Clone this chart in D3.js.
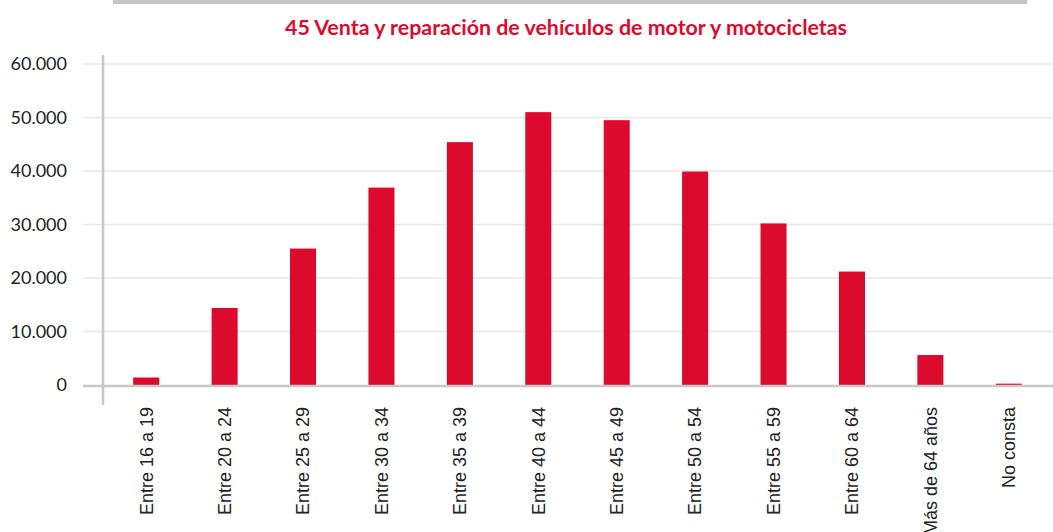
<!DOCTYPE html>
<html>
<head>
<meta charset="utf-8">
<script src="https://cdn.jsdelivr.net/npm/d3@7"></script>
<style>
  body { margin: 0; background: #fff; }
</style>
</head>
<body>
<div id="chart"></div>
<script>
// data
var categories = ["Entre 16 a 19", "Entre 20 a 24", "Entre 25 a 29", "Entre 30 a 34",
  "Entre 35 a 39", "Entre 40 a 44", "Entre 45 a 49", "Entre 50 a 54",
  "Entre 55 a 59", "Entre 60 a 64", "Más de 64 años", "No consta"];
var values = [1400, 14400, 25500, 36900, 45400, 51000, 49500, 39900, 30200, 21200, 5600, 250];
var yTicks = [0, 10000, 20000, 30000, 40000, 50000, 60000];
var title = "45 Venta y reparación de vehículos de motor y motocicletas";

var width = 1053, height = 532;
var red = "#dc0a2c";

var svg = d3.select("#chart")
  .append("svg")
    .attr("width", width)
    .attr("height", height);

// grey bar at the top
svg.append("rect")
  .attr("x", 113).attr("y", 0)
  .attr("width", 914).attr("height", 4)
  .attr("fill", "#c4c4c4");

// title
svg.append("text")
  .attr("x", 566)
  .attr("y", 35)
  .attr("text-anchor", "middle")
  .style("font-family", "Lato, sans-serif")
  .style("font-weight", "bold")
  .style("font-size", "21.4px")
  .style("fill", red)
  .text(title);

var x = d3.scaleBand()
  .domain(categories)
  .range([107, 1048])
  .paddingInner(0.668)
  .paddingOuter(0.334);

var y = d3.scaleLinear()
  .domain([0, 60000])
  .range([385, 64]);

// gridlines
svg.append("g")
  .selectAll("line")
  .data(yTicks.slice(1))
  .enter()
  .append("line")
    .attr("x1", 83)
    .attr("x2", width)
    .attr("y1", d => y(d))
    .attr("y2", d => y(d))
    .attr("stroke", "#e8e8e8")
    .attr("stroke-width", 1.5);

// y labels
var fmt = d3.formatLocale({decimal: ",", thousands: ".", grouping: [3], currency: ["", "€"]}).format(",d");
svg.append("g")
  .selectAll("text")
  .data(yTicks)
  .enter()
  .append("text")
    .attr("x", 67)
    .attr("y", d => y(d))
    .attr("dy", "0.35em")
    .attr("text-anchor", "end")
    .style("font-family", "Lato, sans-serif")
    .style("font-size", "18px")
    .style("fill", "#222")
    .text(d => fmt(d));

// bars
svg.append("g")
  .selectAll("rect")
  .data(values)
  .enter()
  .append("rect")
    .attr("x", (d, i) => x(categories[i]))
    .attr("y", d => y(d))
    .attr("width", x.bandwidth())
    .attr("height", d => y(0) - y(d))
    .attr("fill", red);

// axes lines
svg.append("line")
  .attr("x1", 83).attr("x2", width)
  .attr("y1", 386).attr("y2", 386)
  .attr("stroke", "#c8c8c8")
  .attr("stroke-width", 2.5);

svg.append("line")
  .attr("x1", 103).attr("x2", 103)
  .attr("y1", 55).attr("y2", 405)
  .attr("stroke", "#c8c8c8")
  .attr("stroke-width", 2.5);

// category labels, rotated
svg.append("g")
  .selectAll("text")
  .data(categories)
  .enter()
  .append("text")
    .attr("transform", d => "translate(" + (x(d) + x.bandwidth() / 2) + ",407) rotate(-90)")
    .attr("dy", "0.35em")
    .attr("text-anchor", "end")
    .style("font-family", "'Liberation Sans', Arial, sans-serif")
    .style("font-size", "18px")
    .style("fill", "#222")
    .text(d => d);
</script>
</body>
</html>
